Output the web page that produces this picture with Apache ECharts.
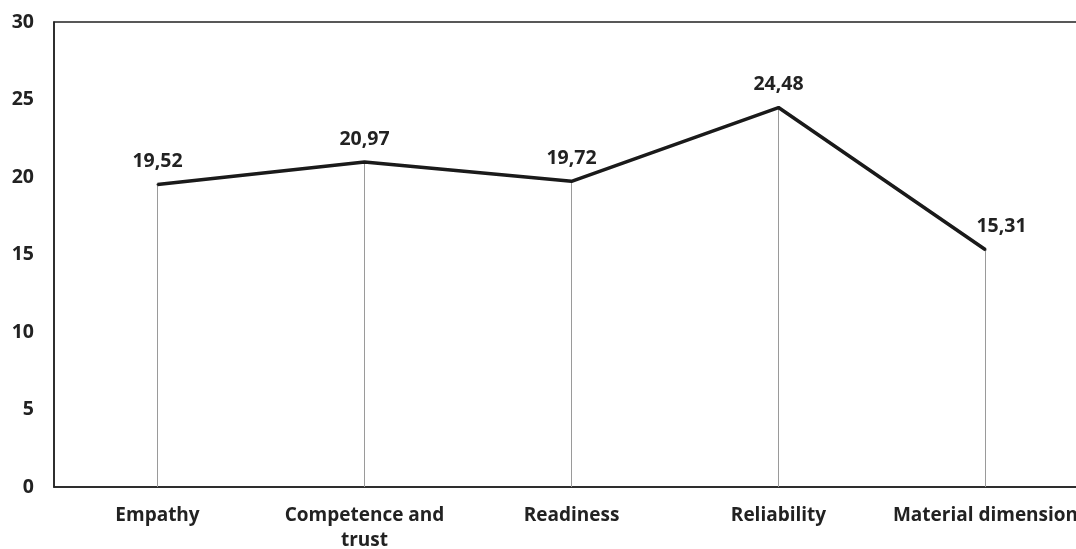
<!DOCTYPE html>
<html><head><meta charset="utf-8">
<script src="https://cdn.jsdelivr.net/npm/echarts@6/dist/echarts.min.js"></script>
<style>html,body{margin:0;padding:0;background:#fff}#c{width:1076px;height:549px}</style>
</head><body><div id="c"></div>
<script>
const categories = ['Empathy', 'Competence and\ntrust', 'Readiness', 'Reliability', 'Material dimension'];
const values = [19.52, 20.97, 19.72, 24.48, 15.31];
const yTicks = [0, 5, 10, 15, 20, 25, 30];

const chart = echarts.init(document.getElementById('c'));
const font = 'Open Sans';
const lineData = values.map((v, i) => i === values.length - 1
  ? {value: v, label: {offset: [16, 0]}}
  : v);
chart.setOption({
  animation: false,
  grid: {left: 54, width: 1035, top: 22, height: 465, show: true, borderColor: '#222', borderWidth: 1.5,
         containLabel: false, outerBoundsMode: 'none'},
  xAxis: {
    type: 'category', data: categories, boundaryGap: true,
    axisLine: {show: true, lineStyle: {color: '#222', width: 1.5}},
    axisTick: {show: false},
    axisLabel: {fontFamily: font, fontWeight: 'bold', fontSize: 19, color: '#222', margin: 16, lineHeight: 25, interval: 0,
                hideOverlap: false}
  },
  yAxis: {
    type: 'value', min: yTicks[0], max: yTicks[yTicks.length - 1], interval: 5,
    axisLine: {show: true, lineStyle: {color: '#222', width: 1.5}},
    axisTick: {show: false},
    splitLine: {show: false},
    axisLabel: {fontFamily: font, fontWeight: 'bold', fontSize: 19.5, color: '#222', margin: 20}
  },
  series: [
    {
      type: 'bar', data: values, barWidth: 1, barGap: '-100%',
      itemStyle: {color: '#9a9a9a'}, silent: true, z: 1
    },
    {
      type: 'line', data: lineData, symbol: 'circle', symbolSize: 2, z: 3,
      itemStyle: {color: '#1a1a1a'},
      lineStyle: {color: '#1a1a1a', width: 3.5},
      label: {
        show: true, position: 'top', distance: 12,
        fontFamily: font, fontWeight: 'bold', fontSize: 19.5, color: '#222',
        formatter: p => p.value.toFixed(2).replace('.', ',')
      }
    }
  ]
});
</script></body></html>
